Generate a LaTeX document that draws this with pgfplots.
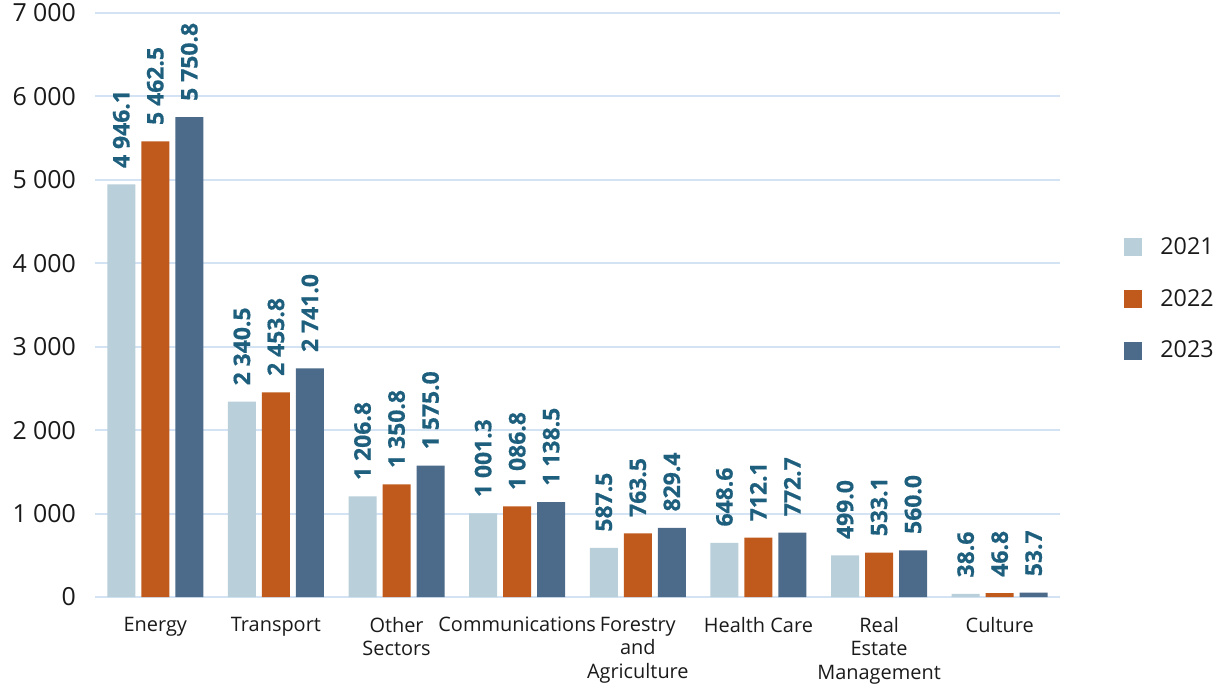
\documentclass[border=0pt]{standalone}
\usepackage{fontspec}
\setmainfont{Open Sans}
\newfontfamily\vfont{Open Sans}[BoldFeatures={FakeBold=0.6}]
\usepackage{pgfplots}
\pgfplotsset{compat=1.18}
\definecolor{c21}{HTML}{B9CFDA}
\definecolor{c22}{HTML}{C05A1C}
\definecolor{c23}{HTML}{4C6A8A}
\definecolor{lab}{HTML}{1E5F7E}
\definecolor{gridc}{HTML}{D3E3F3}
\definecolor{txt}{HTML}{1A1A1A}
\begin{document}
\begin{tikzpicture}
\begin{axis}[
  scale only axis, width=482.5bp, height=292bp,
  xmin=-0.5, xmax=7.5, ymin=0, ymax=7000,
  ybar=3bp, bar width=14bp,
  axis lines*=left,
  x axis line style={gridc, line width=1bp},
  y axis line style={draw=none},
  major tick length=0pt,
  ytick={0,1000,...,7000},
  yticklabels={0,1 000,2 000,3 000,4 000,5 000,6 000,7 000},
  yticklabel style={font=\fontsize{12.5}{14}\selectfont, xshift=-6bp, color=txt},
  ymajorgrids, grid style={gridc, line width=1bp},
  xtick={0,...,7},
  xticklabels={Energy,Transport,Other\\Sectors,Communications,Forestry\\and\\Agriculture,Health Care,Real\\Estate\\Management,Culture},
  xticklabel style={align=center, font=\fontsize{10}{11.8}\selectfont, yshift=-6.5bp, color=txt},
  nodes near coords, point meta=explicit symbolic,
  every node near coord/.append style={rotate=90, anchor=west, font=\fontsize{11.5}{13}\vfont\bfseries, color=lab, xshift=3bp, inner sep=5bp},
  legend style={at={(1,0.51)}, anchor=west, xshift=29bp, draw=none, fill=none, row sep=12bp, font=\fontsize{11.7}{13}\selectfont, text=txt, /tikz/every odd column/.append style={column sep=7bp}},
  legend cell align=left,
  legend image code/.code={\fill[#1,draw=none] (0bp,-4.5bp) rectangle (9bp,4.5bp);},
]
\addplot[fill=c21, draw=none] coordinates {
 (0,4946.1) [4 946.1] (1,2340.5) [2 340.5] (2,1206.8) [1 206.8] (3,1001.3) [1 001.3]
 (4,587.5) [587.5] (5,648.6) [648.6] (6,499.0) [499.0] (7,38.6) [38.6]};
\addplot[fill=c22, draw=none] coordinates {
 (0,5462.5) [5 462.5] (1,2453.8) [2 453.8] (2,1350.8) [1 350.8] (3,1086.8) [1 086.8]
 (4,763.5) [763.5] (5,712.1) [712.1] (6,533.1) [533.1] (7,46.8) [46.8]};
\addplot[fill=c23, draw=none] coordinates {
 (0,5750.8) [5 750.8] (1,2741.0) [2 741.0] (2,1575.0) [1 575.0] (3,1138.5) [1 138.5]
 (4,829.4) [829.4] (5,772.7) [772.7] (6,560.0) [560.0] (7,53.7) [53.7]};
\legend{2021,2022,2023}
\end{axis}
\pgfresetboundingbox
\path (current axis.south west) ++(-47.5bp,-46.5bp) rectangle ([shift={(80bp,6.5bp)}]current axis.north east);
\end{tikzpicture}
\end{document}
